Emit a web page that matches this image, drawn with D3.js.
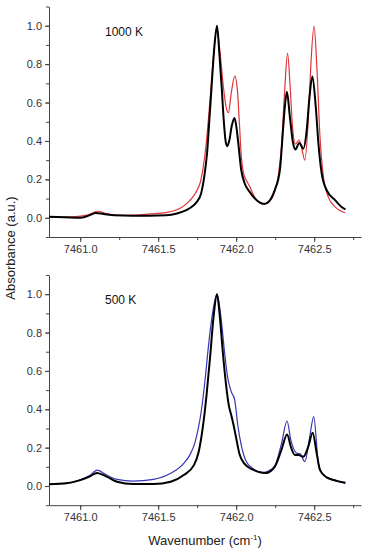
<!DOCTYPE html>
<html>
<head>
<meta charset="utf-8">
<script src="https://cdn.jsdelivr.net/npm/d3@7"></script>
<style>
  body { margin: 0; background: #fff; }
  text { font-family: Arial, "Liberation Sans", sans-serif; }
</style>
</head>
<body>
<div id="chart"></div>
<script>
// measured spectrum at 1000 K [wavenumber, absorbance]
const exp1000 = [
  [7460.80, 0.005], [7460.90, 0.003], [7461.00, 0.000], [7461.05, 0.010],
  [7461.10, 0.025], [7461.15, 0.020], [7461.22, 0.013], [7461.33, 0.011],
  [7461.44, 0.011], [7461.55, 0.013], [7461.62, 0.022], [7461.68, 0.040],
  [7461.72, 0.060], [7461.745, 0.080], [7461.775, 0.127], [7461.795, 0.213],
  [7461.813, 0.335], [7461.828, 0.509], [7461.845, 0.717], [7461.86, 0.89],
  [7461.877, 1.0], [7461.892, 0.856], [7461.907, 0.68], [7461.92, 0.509],
  [7461.932, 0.40], [7461.942, 0.373], [7461.955, 0.40], [7461.972, 0.48],
  [7461.989, 0.52], [7462.00, 0.48], [7462.012, 0.40], [7462.032, 0.25],
  [7462.054, 0.18], [7462.086, 0.135], [7462.12, 0.10], [7462.15, 0.08],
  [7462.18, 0.072], [7462.21, 0.085], [7462.247, 0.144], [7462.28, 0.248],
  [7462.30, 0.457], [7462.312, 0.58], [7462.325, 0.656], [7462.344, 0.526],
  [7462.365, 0.387], [7462.38, 0.356], [7462.404, 0.39], [7462.43, 0.36],
  [7462.452, 0.457], [7462.468, 0.613], [7462.488, 0.735], [7462.51, 0.578],
  [7462.527, 0.387], [7462.548, 0.231], [7462.58, 0.144], [7462.634, 0.092],
  [7462.67, 0.06], [7462.70, 0.044]
];

// simulated spectrum at 1000 K
const fit1000 = [
  [7460.80, 0.003], [7460.95, 0.005], [7461.05, 0.015], [7461.11, 0.034],
  [7461.17, 0.022], [7461.25, 0.013], [7461.35, 0.014], [7461.45, 0.02],
  [7461.55, 0.027], [7461.62, 0.042], [7461.665, 0.062], [7461.70, 0.088],
  [7461.725, 0.112], [7461.75, 0.145], [7461.77, 0.185], [7461.788, 0.26],
  [7461.81, 0.405], [7461.832, 0.613], [7461.854, 0.838], [7461.875, 0.98],
  [7461.897, 0.856], [7461.918, 0.68], [7461.935, 0.578], [7461.95, 0.547],
  [7461.968, 0.648], [7461.991, 0.738], [7462.008, 0.66], [7462.02, 0.50],
  [7462.032, 0.33], [7462.045, 0.24], [7462.065, 0.195], [7462.085, 0.165],
  [7462.11, 0.12], [7462.135, 0.09], [7462.17, 0.072], [7462.21, 0.085],
  [7462.247, 0.135], [7462.27, 0.22], [7462.29, 0.37], [7462.312, 0.68],
  [7462.329, 0.856], [7462.346, 0.68], [7462.361, 0.474], [7462.38, 0.384],
  [7462.404, 0.405], [7462.418, 0.37], [7462.44, 0.30], [7462.462, 0.509],
  [7462.479, 0.804], [7462.499, 0.998], [7462.518, 0.769], [7462.537, 0.422],
  [7462.559, 0.213], [7462.59, 0.109], [7462.634, 0.057], [7462.70, 0.026]
];

// measured spectrum at 500 K
const exp500 = [
  [7460.80, 0.009], [7460.91, 0.014], [7460.99, 0.028], [7461.06, 0.049],
  [7461.107, 0.068], [7461.17, 0.049], [7461.236, 0.022], [7461.34, 0.010],
  [7461.47, 0.010], [7461.58, 0.022], [7461.664, 0.057], [7461.73, 0.11],
  [7461.76, 0.18], [7461.785, 0.30], [7461.81, 0.475], [7461.832, 0.666],
  [7461.854, 0.875], [7461.877, 1.0], [7461.892, 0.909], [7461.914, 0.70],
  [7461.935, 0.527], [7461.952, 0.423], [7461.968, 0.37], [7461.983, 0.318],
  [7462.00, 0.249], [7462.02, 0.17], [7462.054, 0.115], [7462.107, 0.085],
  [7462.15, 0.072], [7462.19, 0.068], [7462.247, 0.10], [7462.29, 0.188],
  [7462.326, 0.268], [7462.353, 0.197], [7462.376, 0.162], [7462.40, 0.162],
  [7462.43, 0.153], [7462.462, 0.205], [7462.49, 0.278], [7462.516, 0.17],
  [7462.537, 0.083], [7462.58, 0.045], [7462.64, 0.028], [7462.70, 0.017]
];

// simulated spectrum at 500 K
const fit500 = [
  [7460.80, 0.009], [7460.91, 0.014], [7460.99, 0.03], [7461.06, 0.055],
  [7461.11, 0.083], [7461.17, 0.057], [7461.236, 0.035], [7461.34, 0.026],
  [7461.47, 0.035], [7461.58, 0.066], [7461.664, 0.118], [7461.705, 0.165],
  [7461.735, 0.225], [7461.757, 0.30], [7461.778, 0.40], [7461.80, 0.55],
  [7461.823, 0.736], [7461.85, 0.909], [7461.877, 1.0], [7461.903, 0.875],
  [7461.925, 0.70], [7461.946, 0.562], [7461.968, 0.492], [7461.99, 0.45],
  [7462.01, 0.318], [7462.032, 0.214], [7462.065, 0.127], [7462.118, 0.085],
  [7462.17, 0.07], [7462.21, 0.08], [7462.25, 0.11], [7462.29, 0.22],
  [7462.326, 0.339], [7462.35, 0.24], [7462.39, 0.17], [7462.41, 0.168],
  [7462.44, 0.127], [7462.47, 0.25], [7462.497, 0.362], [7462.527, 0.118],
  [7462.56, 0.057], [7462.62, 0.03], [7462.70, 0.015]
];

const xTicks = [7461.0, 7461.5, 7462.0, 7462.5];
const yTicks = [0.0, 0.2, 0.4, 0.6, 0.8, 1.0];

const width = 365;
const height = 550;
const axisColor = "#444";
const expColor = "#000";
const redColor = "#e0353a";
const blueColor = "#3535b5";

const svg = d3.select("#chart").append("svg")
  .attr("width", width)
  .attr("height", height);

svg.append("rect").attr("width", width).attr("height", height).attr("fill", "#fff");

const x = d3.scaleLinear().domain([7460.8, 7462.8]).range([49, 361]);

function drawPanel(top, bottom, expData, fitData, fitColor, label) {
  const y = d3.scaleLinear().domain([-0.1, 1.1]).range([bottom, top]);
  const g = svg.append("g");

  const line = d3.line()
    .x(d => x(d[0]))
    .y(d => y(d[1]))
    .curve(d3.curveMonotoneX);

  // minor ticks first
  g.append("g")
    .attr("transform", `translate(0,${bottom})`)
    .call(d3.axisBottom(x).tickValues(d3.range(7461.0, 7462.8, 0.25)).tickSize(3).tickFormat(""))
    .call(a => a.select(".domain").remove());
  g.append("g")
    .attr("transform", `translate(${x.range()[0]},0)`)
    .call(d3.axisLeft(y).tickValues(d3.range(-0.1, 1.15, 0.1)).tickSize(3).tickFormat(""))
    .call(a => a.select(".domain").remove());

  const xa = g.append("g")
    .attr("transform", `translate(0,${bottom})`)
    .call(d3.axisBottom(x).tickValues(xTicks).tickSize(5).tickSizeOuter(0).tickPadding(3).tickFormat(d3.format(".1f")));
  const ya = g.append("g")
    .attr("transform", `translate(${x.range()[0]},0)`)
    .call(d3.axisLeft(y).tickValues(yTicks).tickSize(4).tickSizeOuter(0).tickPadding(3).tickFormat(d3.format(".1f")));

  [xa, ya].forEach(a => {
    a.selectAll("path, line").attr("stroke", axisColor);
    a.selectAll("text").attr("fill", "#333").style("font-size", "11px");
  });
  g.selectAll(".tick line").attr("stroke", axisColor);

  g.append("path")
    .datum(fitData)
    .attr("fill", "none")
    .attr("stroke", fitColor)
    .attr("stroke-width", 1.2)
    .attr("d", line);

  g.append("path")
    .datum(expData)
    .attr("fill", "none")
    .attr("stroke", expColor)
    .attr("stroke-width", 2)
    .attr("d", line);

  g.append("text")
    .attr("x", 105)
    .attr("y", top + 29)
    .attr("fill", "#111")
    .style("font-size", "12px")
    .text(label);
}

drawPanel(6.5, 237, exp1000, fit1000, redColor, "1000 K");
drawPanel(275, 505.2, exp500, fit500, blueColor, "500 K");

svg.append("text")
  .attr("transform", "translate(15,248) rotate(-90)")
  .attr("text-anchor", "middle")
  .attr("fill", "#222")
  .style("font-size", "13px")
  .text("Absorbance (a.u.)");

const xl = svg.append("text")
  .attr("x", 205)
  .attr("y", 545)
  .attr("text-anchor", "middle")
  .attr("fill", "#222")
  .style("font-size", "13px");
xl.append("tspan").text("Wavenumber (cm");
xl.append("tspan").attr("dy", -5).style("font-size", "8px").text("-1");
xl.append("tspan").attr("dy", 5).text(")");
</script>
</body>
</html>
